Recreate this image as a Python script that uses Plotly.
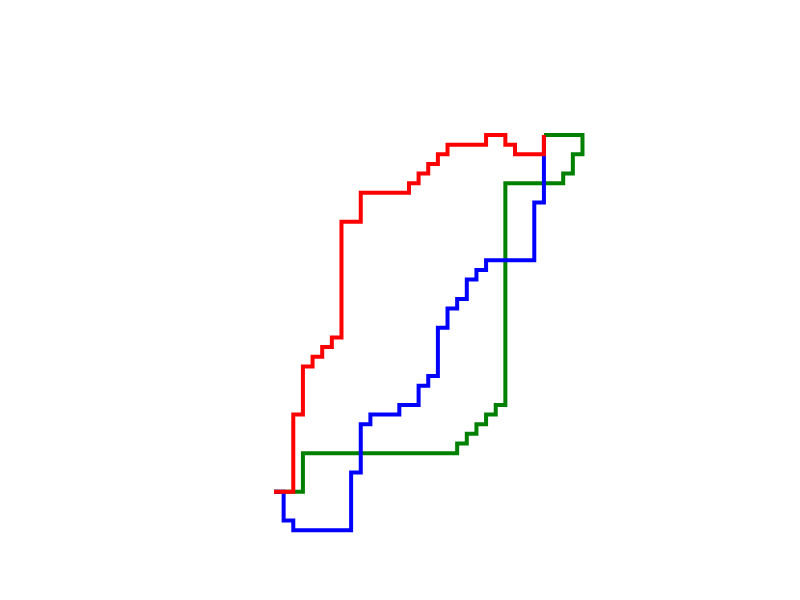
import plotly.graph_objects as go

# Corner points of the three lattice paths (grid units)
red_x = [0, 2, 2, 3, 3, 4, 4, 5, 5, 6, 6, 7, 7, 9, 9, 14, 14, 15, 15, 16, 16, 17, 17, 18, 18, 22, 22, 24, 24, 25, 25, 28, 28]
red_y = [0, 0, 8, 8, 13, 13, 14, 14, 15, 15, 16, 16, 28, 28, 31, 31, 32, 32, 33, 33, 34, 34, 35, 35, 36, 36, 37, 37, 36, 36, 35, 35, 37]

blue_x = [0, 1, 1, 2, 2, 8, 8, 9, 9, 10, 10, 13, 13, 15, 15, 16, 16, 17, 17, 18, 18, 19, 19, 20, 20, 21, 21, 22, 22, 27, 27, 28, 28]
blue_y = [0, 0, -3, -3, -4, -4, 2, 2, 7, 7, 8, 8, 9, 9, 11, 11, 12, 12, 17, 17, 19, 19, 20, 20, 22, 22, 23, 23, 24, 24, 30, 30, 37]

green_x = [0, 3, 3, 19, 19, 20, 20, 21, 21, 22, 22, 23, 23, 24, 24, 30, 30, 31, 31, 32, 32, 28]
green_y = [0, 0, 4, 4, 5, 5, 6, 6, 7, 7, 8, 8, 9, 9, 32, 32, 33, 33, 35, 35, 37, 37]

series = [
    ("green", green_x, green_y, "#008000"),
    ("blue", blue_x, blue_y, "#0000ff"),
    ("red", red_x, red_y, "#ff0000"),
]

fig = go.Figure()
for name, xs, ys, col in series:
    fig.add_trace(go.Scatter(x=xs, y=ys, mode="lines", name=name,
                             line=dict(color=col, width=4), hoverinfo="skip"))

u = 9.64
x0, y0 = 274.0, 491.7
fig.update_layout(
    width=800, height=600,
    margin=dict(l=0, r=0, t=0, b=0),
    paper_bgcolor="white", plot_bgcolor="white",
    showlegend=False,
    xaxis=dict(visible=False, range=[-x0 / u, (800 - x0) / u]),
    yaxis=dict(visible=False, range=[(y0 - 600) / u, y0 / u]),
)
fig.write_html("out.html")
